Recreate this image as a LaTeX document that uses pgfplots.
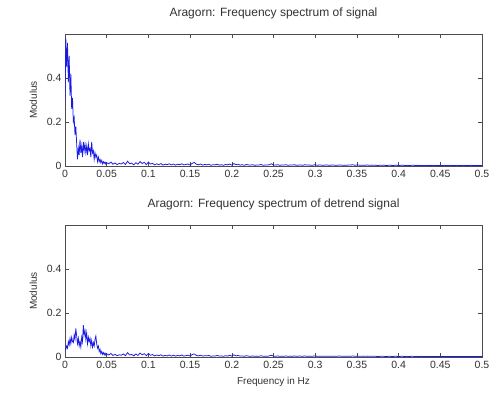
\documentclass[border=0pt]{standalone}
\usepackage{pgfplots}
\pgfplotsset{compat=1.18}
\usepackage{fontspec}
\setmainfont{Liberation Sans}
\definecolor{txt}{RGB}{50,50,50}
\definecolor{spec}{RGB}{25,25,230}

\pgfplotsset{
  specaxis/.style={
    scale only axis, width=417pt, height=132pt,
    xmin=0, xmax=0.5, ymin=0, ymax=0.6,
    xtick={0,0.05,0.1,0.15,0.2,0.25,0.3,0.35,0.4,0.45,0.5},
    xticklabels={0,0.05,0.1,0.15,0.2,0.25,0.3,0.35,0.4,0.45,0.5},
    ytick={0,0.2,0.4},
    yticklabels={0,0.2,0.4},
    scaled ticks=false,
    tick align=inside, tick pos=both,
    major tick length=4pt,
    axis line style={draw=black!70, line width=0.8pt},
    every tick/.style={draw=black!70, line width=0.6pt},
    tick label style={font=\fontsize{10.5}{11}\selectfont, text=txt},
    /pgf/number format/assume math mode=true,
    xticklabel style={yshift=-1pt},
    title style={font=\fontsize{12}{13}\selectfont, text=txt, at={(0.5,1)}, anchor=south, yshift=5pt},
    ylabel style={font=\fontsize{10}{11}\selectfont, text=txt},
    xlabel style={font=\fontsize{10}{11}\selectfont, text=txt, yshift=-1pt},
    ylabel shift=3pt,
  }
}

\pgfplotstableread{
x y
0 0.30
0.001 0.58
0.002 0.45
0.003 0.56
0.004 0.38
0.005 0.50
0.006 0.32
0.007 0.42
0.008 0.26
0.009 0.31
0.010 0.20
0.011 0.22
0.012 0.14
0.013 0.18
0.014 0.10
0.015 0.03
0.016 0.08
0.017 0.05
0.018 0.12
0.019 0.06
0.020 0.09
0.021 0.04
0.022 0.11
0.023 0.07
0.024 0.10
0.025 0.06
0.026 0.09
0.027 0.05
0.028 0.10
0.029 0.07
0.030 0.08
0.031 0.04
0.032 0.11
0.033 0.06
0.034 0.07
0.035 0.03
0.036 0.06
0.037 0.04
0.038 0.05
0.039 0.02
0.040 0.04
0.041 0.02
0.042 0.03
0.043 0.015
0.044 0.025
0.045 0.010
0.046 0.020
0.047 0.012
0.048 0.018
0.049 0.008
0.050 0.015
0.0525 0.010
0.055 0.018
0.0575 0.008
0.06 0.014
0.0625 0.006
0.065 0.012
0.0675 0.009
0.07 0.016
0.0725 0.007
0.075 0.022
0.0775 0.010
0.08 0.013
0.0825 0.005
0.085 0.015
0.0875 0.008
0.09 0.020
0.0925 0.011
0.095 0.017
0.0975 0.006
0.1 0.018
0.1025 0.009
0.105 0.012
0.1075 0.005
0.11 0.010
0.1125 0.006
0.115 0.011
0.1175 0.004
0.12 0.008
0.1225 0.006
0.125 0.010
0.1275 0.005
0.13 0.009
0.1325 0.004
0.135 0.008
0.1375 0.006
0.14 0.010
0.1425 0.005
0.145 0.007
0.1475 0.009
0.15 0.004
0.1525 0.012
0.155 0.016
0.1575 0.008
0.16 0.006
0.1625 0.009
0.165 0.004
0.1675 0.007
0.17 0.005
0.1725 0.008
0.175 0.003
0.1775 0.006
0.18 0.005
0.1825 0.008
0.185 0.004
0.1875 0.006
0.19 0.003
0.1925 0.007
0.195 0.005
0.1975 0.009
0.2 0.004
0.2025 0.011
0.205 0.006
0.2075 0.008
0.21 0.004
0.2125 0.006
0.215 0.003
0.2175 0.007
0.22 0.005
0.2225 0.004
0.225 0.006
0.2275 0.003
0.23 0.005
0.2325 0.004
0.235 0.007
0.2375 0.003
0.24 0.005
0.2425 0.004
0.245 0.006
0.2475 0.010
0.25 0.005
0.2525 0.004
0.255 0.006
0.2575 0.003
0.26 0.005
0.2625 0.004
0.265 0.006
0.2675 0.003
0.27 0.005
0.2725 0.004
0.275 0.006
0.2775 0.003
0.28 0.004
0.2825 0.005
0.285 0.003
0.2875 0.006
0.29 0.004
0.2925 0.005
0.295 0.003
0.2975 0.004
0.3 0.006
0.3025 0.003
0.305 0.005
0.3075 0.004
0.31 0.003
0.3125 0.005
0.315 0.004
0.3175 0.003
0.32 0.005
0.3225 0.004
0.325 0.003
0.3275 0.004
0.33 0.005
0.3325 0.003
0.335 0.004
0.3375 0.003
0.34 0.005
0.3425 0.004
0.345 0.006
0.3475 0.003
0.35 0.005
0.3525 0.004
0.355 0.003
0.3575 0.004
0.36 0.003
0.3625 0.005
0.365 0.003
0.3675 0.004
0.37 0.003
0.3725 0.004
0.375 0.002
0.3775 0.004
0.38 0.003
0.3825 0.004
0.385 0.002
0.3875 0.003
0.39 0.004
0.3925 0.002
0.395 0.003
0.3975 0.004
0.4 0.002
0.4025 0.003
0.405 0.004
0.4075 0.002
0.41 0.003
0.4125 0.002
0.415 0.003
0.4175 0.004
0.42 0.002
0.4225 0.003
0.425 0.002
0.4275 0.003
0.43 0.002
0.4325 0.003
0.435 0.002
0.4375 0.003
0.44 0.002
0.4425 0.003
0.445 0.002
0.4475 0.002
0.45 0.003
0.4525 0.002
0.455 0.003
0.4575 0.002
0.46 0.002
0.4625 0.003
0.465 0.002
0.4675 0.002
0.47 0.003
0.4725 0.002
0.475 0.002
0.4775 0.003
0.48 0.002
0.4825 0.002
0.485 0.002
0.4875 0.003
0.49 0.002
0.4925 0.002
0.495 0.002
0.4975 0.002
0.5 0.002
}\signal

\pgfplotstableread{
x y
0 0.030
0.001 0.035
0.002 0.050
0.003 0.040
0.004 0.070
0.005 0.055
0.006 0.085
0.007 0.060
0.008 0.090
0.009 0.070
0.010 0.065
0.011 0.100
0.012 0.080
0.013 0.130
0.014 0.095
0.015 0.060
0.016 0.085
0.017 0.050
0.018 0.070
0.019 0.045
0.020 0.090
0.021 0.070
0.022 0.145
0.023 0.100
0.024 0.120
0.025 0.080
0.026 0.110
0.027 0.060
0.028 0.090
0.029 0.070
0.030 0.085
0.031 0.050
0.032 0.075
0.033 0.045
0.034 0.065
0.035 0.050
0.036 0.080
0.037 0.095
0.038 0.060
0.039 0.040
0.040 0.050
0.041 0.025
0.042 0.035
0.043 0.015
0.044 0.025
0.045 0.012
0.046 0.020
0.047 0.010
0.048 0.018
0.049 0.008
0.050 0.015
0.0525 0.009
0.055 0.016
0.0575 0.007
0.06 0.012
0.0625 0.006
0.065 0.010
0.0675 0.008
0.07 0.014
0.0725 0.006
0.075 0.020
0.0775 0.009
0.08 0.012
0.0825 0.005
0.085 0.014
0.0875 0.007
0.09 0.018
0.0925 0.010
0.095 0.015
0.0975 0.006
0.1 0.016
0.1025 0.008
0.105 0.011
0.1075 0.005
0.11 0.009
0.1125 0.006
0.115 0.010
0.1175 0.004
0.12 0.007
0.1225 0.005
0.125 0.009
0.1275 0.004
0.13 0.008
0.1325 0.004
0.135 0.007
0.1375 0.005
0.14 0.009
0.1425 0.004
0.145 0.006
0.1475 0.008
0.15 0.004
0.1525 0.011
0.155 0.014
0.1575 0.007
0.16 0.005
0.1625 0.008
0.165 0.004
0.1675 0.006
0.17 0.005
0.1725 0.007
0.175 0.003
0.1775 0.005
0.18 0.004
0.1825 0.007
0.185 0.004
0.1875 0.005
0.19 0.003
0.1925 0.006
0.195 0.004
0.1975 0.008
0.2 0.004
0.2025 0.010
0.205 0.005
0.2075 0.007
0.21 0.004
0.2125 0.005
0.215 0.003
0.2175 0.006
0.22 0.004
0.2225 0.003
0.225 0.005
0.2275 0.003
0.23 0.004
0.2325 0.003
0.235 0.006
0.2375 0.003
0.24 0.004
0.2425 0.003
0.245 0.005
0.2475 0.008
0.25 0.004
0.2525 0.003
0.255 0.005
0.2575 0.003
0.26 0.004
0.2625 0.003
0.265 0.005
0.2675 0.003
0.27 0.004
0.2725 0.003
0.275 0.005
0.2775 0.003
0.28 0.004
0.2825 0.004
0.285 0.003
0.2875 0.005
0.29 0.003
0.2925 0.004
0.295 0.003
0.2975 0.004
0.3 0.005
0.3025 0.003
0.305 0.004
0.3075 0.003
0.31 0.003
0.3125 0.004
0.315 0.003
0.3175 0.003
0.32 0.004
0.3225 0.003
0.325 0.003
0.3275 0.004
0.33 0.004
0.3325 0.003
0.335 0.004
0.3375 0.003
0.34 0.004
0.3425 0.003
0.345 0.005
0.3475 0.003
0.35 0.004
0.3525 0.003
0.355 0.003
0.3575 0.004
0.36 0.003
0.3625 0.004
0.365 0.003
0.3675 0.003
0.37 0.003
0.3725 0.003
0.375 0.002
0.3775 0.003
0.38 0.003
0.3825 0.003
0.385 0.002
0.3875 0.003
0.39 0.003
0.3925 0.002
0.395 0.003
0.3975 0.003
0.4 0.002
0.4025 0.003
0.405 0.003
0.4075 0.002
0.41 0.003
0.4125 0.002
0.415 0.003
0.4175 0.003
0.42 0.002
0.4225 0.003
0.425 0.002
0.4275 0.003
0.43 0.002
0.4325 0.002
0.435 0.002
0.4375 0.003
0.44 0.002
0.4425 0.002
0.445 0.002
0.4475 0.002
0.45 0.003
0.4525 0.002
0.455 0.002
0.4575 0.002
0.46 0.002
0.4625 0.002
0.465 0.002
0.4675 0.002
0.47 0.002
0.4725 0.002
0.475 0.002
0.4775 0.002
0.48 0.002
0.4825 0.002
0.485 0.002
0.4875 0.002
0.49 0.002
0.4925 0.002
0.495 0.002
0.4975 0.002
0.5 0.002
}\detrend

\begin{document}
\begin{tikzpicture}
\useasboundingbox (0,0) rectangle (490pt,393pt);
\begin{axis}[specaxis, at={(65pt,227pt)}, anchor=south west,
  title={Aragorn: Frequency spectrum of signal},
  ylabel={Modulus}]
\addplot[spec, line width=0.75pt, no marks] table[x=x, y=y] {\signal};
\end{axis}
\begin{axis}[specaxis, at={(65pt,36pt)}, anchor=south west,
  title={Aragorn: Frequency spectrum of detrend signal},
  ylabel={Modulus}, xlabel={Frequency in Hz}]
\addplot[spec, line width=0.75pt, no marks] table[x=x, y=y] {\detrend};
\end{axis}
\end{tikzpicture}
\end{document}
